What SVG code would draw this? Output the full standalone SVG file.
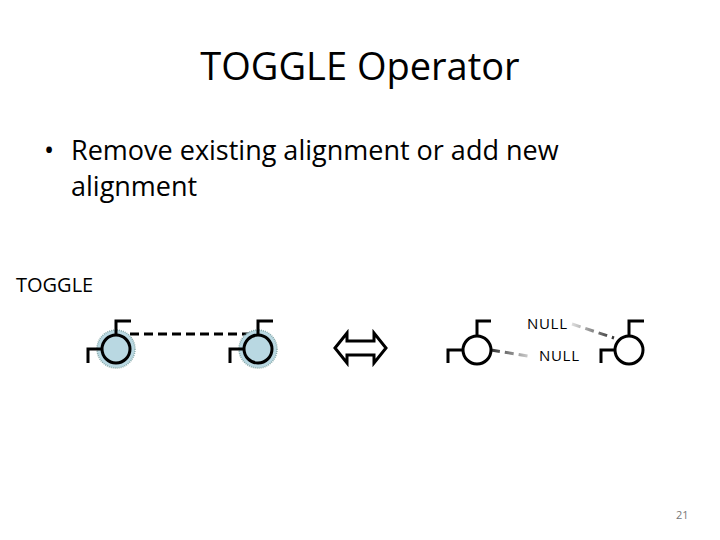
<svg xmlns="http://www.w3.org/2000/svg" width="720" height="540" viewBox="0 0 720 540">
<defs>
<linearGradient id="g1" x1="0" y1="0" x2="1" y2="0"><stop offset="0" stop-color="#ddd"/><stop offset="1" stop-color="#333"/></linearGradient>
<linearGradient id="g2" x1="0" y1="0" x2="1" y2="0"><stop offset="0" stop-color="#333"/><stop offset="1" stop-color="#ccc"/></linearGradient>
</defs>
<style>
text{font-family:"Open Sans","Liberation Sans",sans-serif;fill:#000}
.s{fill:none;stroke:#000;stroke-width:3}
.c{fill:#b9d8e2;stroke:#000;stroke-width:3}
.h{fill:#b9d8e2;stroke:#8aa;stroke-width:1.5;stroke-dasharray:1 1}
.w{fill:#fff;stroke:#000;stroke-width:3}
</style>
<rect width="720" height="540" fill="#fff"/>
<text x="360" y="80" font-size="38" text-anchor="middle">TOGGLE Operator</text>
<text x="44" y="160" font-size="27">•</text>
<text x="71" y="160" font-size="27">Remove existing alignment or add new</text>
<text x="71" y="196" font-size="27">alignment</text>
<text x="16" y="292" font-size="20">TOGGLE</text>
<g id="connectors">
<line x1="130" y1="334" x2="250" y2="334" stroke="#000" stroke-width="3" stroke-dasharray="9 5"/>
<line x1="572" y1="324" x2="614" y2="338" stroke="url(#g1)" stroke-width="3" stroke-dasharray="9 5"/>
<line x1="491" y1="350" x2="528" y2="356" stroke="url(#g2)" stroke-width="3" stroke-dasharray="9 5"/>
</g>
<g id="n1"><circle class="h" cx="116" cy="349" r="19"/><circle class="c" cx="116" cy="349" r="14"/><path class="s" d="M116 335V321H131M102 349H88V363"/></g>
<g id="n2"><circle class="h" cx="258" cy="349" r="19"/><circle class="c" cx="258" cy="349" r="14"/><path class="s" d="M258 335V321H273M244 349H230V363"/></g>
<g id="arrow"><path d="M335 348L347 333V341H374V333L386 348L374 363V355H347V363Z" fill="none" stroke="#000" stroke-width="3" stroke-linejoin="miter"/></g>
<g id="n3"><circle class="w" cx="477" cy="350" r="14"/><path class="s" d="M477 336V321H491M463 350H448V363"/></g>
<g id="n4"><circle class="w" cx="629" cy="350" r="14"/><path class="s" d="M629 336V321H644M615 350H601V363"/></g>
<text x="527" y="329" font-size="15" textLength="40">NULL</text>
<text x="539" y="361" font-size="15" textLength="40">NULL</text>
<text x="676" y="519" font-size="11" style="fill:#777">21</text>
</svg>
